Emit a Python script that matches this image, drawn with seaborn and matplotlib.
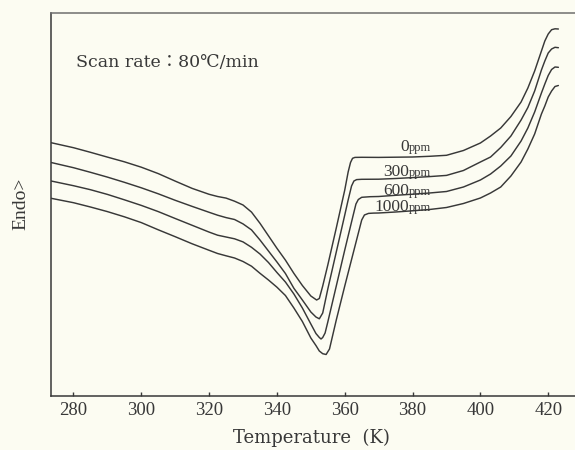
import numpy as np
import pandas as pd
import matplotlib
matplotlib.use("Agg")
import matplotlib.pyplot as plt
import seaborn as sns

# DSC traces (heat flow, arbitrary units, endothermic up) vs temperature in K
temp_0 = [273.4, 280, 285, 290, 295, 300, 305, 310, 315, 320, 322.5, 325, 327.5, 330,
          332.5, 335, 337.5, 340, 342.5, 345, 347.5, 350, 351.7, 352.5, 353.5, 355,
          357.5, 360, 361, 361.7, 362.3, 363, 365, 370, 375, 380, 385, 390, 395, 400,
          403, 406, 409, 412, 414, 416, 418, 419, 420, 421, 422, 423]
heat_0 = [252.8, 247.8, 243.2, 238.4, 233.7, 228.3, 221.9, 214.4, 207.1, 201.2, 199.0,
          197.4, 194.3, 190.5, 183.4, 172.2, 159.7, 147.2, 135.4, 122.1, 110.0, 99.5,
          95.5, 97.0, 109.5, 130.5, 167.5, 205.5, 223.5, 233.0, 237.2, 238.1, 238.2,
          238.1, 238.3, 238.5, 239.2, 240.2, 245.0, 252.5, 259.5, 267.5, 279.0, 293.5,
          307.5, 324.5, 344.5, 354.5, 361.5, 365.8, 366.7, 366.5]

temp_300 = [273.4, 280, 285, 290, 295, 300, 305, 310, 315, 320, 322.5, 325, 327.5, 330,
            332.5, 335, 337.5, 340, 342.5, 345, 347.5, 350, 351.5, 352.5, 353.5, 355,
            357.5, 360, 361, 362, 362.7, 363.5, 365, 370, 375, 380, 385, 390, 395, 400,
            403, 406, 409, 412, 414, 416, 418, 419, 420, 421, 422, 423]
heat_300 = [233.0, 227.8, 223.2, 218.4, 213.2, 207.7, 201.7, 195.2, 189.1, 183.2, 180.3,
            177.9, 176.0, 171.6, 165.6, 155.5, 144.5, 133.5, 122.0, 107.2, 95.5, 83.5,
            78.5, 76.7, 82.5, 106.5, 143.5, 180.5, 195.5, 209.5, 214.5, 215.9, 216.2,
            216.3, 217.0, 217.9, 218.9, 220.1, 225.0, 233.5, 238.5, 248.0, 259.5, 275.5,
            288.0, 304.5, 325.5, 334.5, 342.5, 346.5, 348.2, 347.8]

temp_600 = [273.4, 280, 285, 290, 295, 300, 305, 310, 315, 320, 322.5, 325, 327.5, 330,
            332.5, 335, 337.5, 340, 342.5, 345, 347.5, 350, 351.5, 352.5, 353, 353.5,
            354.2, 355, 357.5, 360, 362.5, 363.3, 364, 365, 367.5, 370, 375, 380, 385,
            390, 395, 400, 403, 406, 409, 412, 414, 416, 418, 419, 420, 421, 422, 423]
heat_600 = [214.5, 209.8, 205.8, 201.1, 195.7, 190.1, 183.9, 177.0, 170.2, 163.4, 160.3,
            158.5, 156.7, 153.6, 148.2, 141.5, 133.0, 123.0, 113.5, 101.5, 87.5, 71.5,
            62.0, 58.0, 56.5, 58.0, 62.5, 73.5, 109.5, 145.5, 180.5, 191.5, 196.0, 198.2,
            198.8, 199.0, 200.2, 201.3, 202.5, 204.0, 208.5, 215.5, 221.5, 229.5, 239.5,
            254.5, 267.5, 283.5, 302.5, 311.5, 320.0, 326.0, 328.5, 328.2]

temp_1000 = [273.4, 280, 285, 290, 295, 300, 305, 310, 315, 320, 322.5, 325, 327.5, 330,
             332.5, 335, 337.5, 340, 342.5, 345, 347.5, 350, 351.5, 352.5, 353.5, 354.5,
             355.5, 357.5, 360, 362.5, 365, 365.8, 367, 368.5, 370, 375, 380, 385, 390,
             395, 400, 403, 406, 409, 412, 414, 416, 418, 419, 420, 421, 422, 423]
heat_1000 = [197.2, 192.8, 188.5, 183.9, 178.7, 172.9, 165.7, 158.8, 151.7, 145.2, 142.0,
             139.7, 137.5, 134.0, 129.3, 122.2, 115.5, 108.3, 100.0, 87.5, 74.0, 57.5,
             50.0, 44.5, 41.8, 41.0, 46.5, 75.5, 109.5, 142.5, 175.5, 180.5, 182.1, 182.4,
             182.5, 183.5, 184.7, 186.0, 188.0, 192.0, 197.5, 202.5, 208.5, 219.5, 233.5,
             246.5, 261.5, 281.5, 289.5, 298.5, 304.5, 309.0, 310.0]

conc_numbers = ["0", "300", "600", "1000"]
x_ticks = [280, 300, 320, 340, 360, 380, 400, 420]

frames = []
for num, t, h in zip(conc_numbers,
                     [temp_0, temp_300, temp_600, temp_1000],
                     [heat_0, heat_300, heat_600, heat_1000]):
    frames.append(pd.DataFrame({"T": t, "heat": h, "conc": num + "ppm"}))
df = pd.concat(frames, ignore_index=True)

# ---- styling ----
sns.set_style("ticks")
bg = "#fcfcf2"
ink = "#383838"
serif = ["Liberation Serif", "DejaVu Serif"]
plt.rcParams["font.family"] = serif

fig = plt.figure(figsize=(5.75, 4.5), dpi=100, facecolor=bg)
ax = fig.add_axes([51 / 575, 54.5 / 450, 524 / 575, 382.5 / 450], facecolor=bg)

sns.lineplot(data=df, x="T", y="heat", hue="conc", units="conc", estimator=None,
             sort=False, palette=[ink] * 4, legend=False, linewidth=1.05, ax=ax)

ax.set_xlim(273.37, 427.9)
ax.set_ylim(0, 382.5)
ax.set_xticks(x_ticks)
ax.set_xticklabels([str(v) for v in x_ticks], fontsize=13.5, color=ink,
                   family=serif)
ax.set_yticks([])
ax.tick_params(axis="x", direction="in", length=3, width=1, color=ink, pad=5,
               top=False)
ax.set_xlabel("")
ax.set_ylabel("")

for side in ["left", "bottom"]:
    ax.spines[side].set_color(ink)
    ax.spines[side].set_linewidth(1.1)
ax.spines["top"].set_color("#6e6e6e")
ax.spines["top"].set_linewidth(1.1)
ax.spines["right"].set_visible(False)

# concentration labels sitting on the plateaus
label_x = 378.9
label_y = [244.5, 220.0, 201.0, 184.5]
for num, y in zip(conc_numbers, label_y):
    ax.text(label_x, y, num, ha="right", va="baseline", fontsize=12.5,
            color=ink, family=serif)
    ax.text(label_x, y, "ppm", ha="left", va="baseline", fontsize=9,
            color=ink, family=serif)

fig.text(76 / 575, 1 - 67 / 450, "Scan rate：80℃/min", ha="left", va="baseline",
         fontsize=12.5, color=ink, family=["DejaVu Serif", "Noto Sans CJK JP"])
fig.text(311 / 575, 1 - 438 / 450, "Temperature  (K)", ha="center", va="center",
         fontsize=13, color=ink, family=["DejaVu Serif"])
fig.text(20.5 / 575, 1 - 203.5 / 450, "Endo>", ha="center", va="center",
         rotation=90, fontsize=14, color=ink, family=serif)

fig.savefig("out.png", dpi=100, facecolor=bg)
